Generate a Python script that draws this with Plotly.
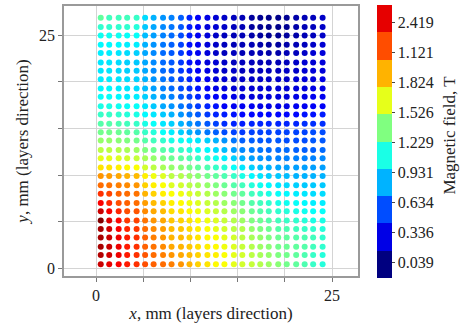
import plotly.graph_objects as go

# column positions (mm, layers direction) and row positions (mm)
x_mm = [0.5, 1.4, 2.4, 3.3, 4.3, 5.2, 6.1, 7.1, 8.0, 9.0, 9.9, 10.8, 11.8,
        12.7, 13.6, 14.6, 15.5, 16.5, 17.4, 18.3, 19.3, 20.2, 21.2, 22.1, 23.0, 24.0]
# rows listed from top (y = 26.9) to bottom (y = 0.4)
y_mm = [26.9, 25.9, 25.0, 24.0, 23.1, 22.1, 21.2, 20.3, 19.3, 18.4, 17.4, 16.5,
        15.5, 14.6, 13.7, 12.7, 11.8, 10.8, 9.9, 8.9, 8.0, 7.0, 6.1, 5.1, 4.2,
        3.3, 2.3, 1.4, 0.4]

# magnetic field (T), one list per row, top row first
B = [
    [1.16, 1.08, 1.08, 1.08, 1.05, 0.81, 0.70, 0.62, 0.57, 0.48, 0.32, 0.21, 0.16, 0.11, 0.08, 0.05, 0.03, -0.03, -0.06, -0.08, -0.08, -0.06, 0.00, 0.03, 0.05, 0.08],
    [1.03, 1.03, 1.03, 1.03, 1.00, 0.76, 0.67, 0.59, 0.54, 0.46, 0.30, 0.21, 0.13, 0.11, 0.08, 0.05, 0.03, -0.03, -0.06, -0.08, -0.08, -0.06, 0.00, 0.03, 0.05, 0.08],
    [0.94, 0.94, 0.94, 0.92, 0.92, 0.73, 0.65, 0.57, 0.51, 0.43, 0.30, 0.19, 0.13, 0.08, 0.05, 0.03, 0.03, 0.00, -0.03, -0.06, -0.06, -0.03, 0.00, 0.03, 0.05, 0.08],
    [0.89, 0.89, 0.89, 0.86, 0.86, 0.70, 0.62, 0.54, 0.48, 0.40, 0.27, 0.19, 0.13, 0.08, 0.05, 0.03, 0.03, 0.03, 0.00, -0.03, -0.03, 0.00, 0.03, 0.05, 0.08, 0.11],
    [0.86, 0.86, 0.84, 0.81, 0.78, 0.67, 0.59, 0.51, 0.46, 0.38, 0.27, 0.19, 0.13, 0.08, 0.05, 0.05, 0.03, 0.03, 0.03, 0.00, 0.00, 0.03, 0.05, 0.08, 0.11, 0.13],
    [0.84, 0.84, 0.81, 0.78, 0.76, 0.67, 0.59, 0.51, 0.46, 0.38, 0.27, 0.19, 0.13, 0.11, 0.08, 0.05, 0.05, 0.05, 0.03, 0.03, 0.03, 0.05, 0.08, 0.11, 0.11, 0.13],
    [0.84, 0.84, 0.81, 0.78, 0.76, 0.67, 0.59, 0.51, 0.46, 0.38, 0.30, 0.21, 0.16, 0.11, 0.08, 0.08, 0.05, 0.05, 0.05, 0.05, 0.05, 0.08, 0.08, 0.11, 0.13, 0.13],
    [0.86, 0.86, 0.84, 0.81, 0.78, 0.70, 0.62, 0.54, 0.48, 0.40, 0.32, 0.24, 0.19, 0.13, 0.11, 0.08, 0.08, 0.08, 0.08, 0.08, 0.08, 0.08, 0.11, 0.13, 0.13, 0.16],
    [0.89, 0.89, 0.86, 0.84, 0.81, 0.73, 0.65, 0.57, 0.51, 0.43, 0.35, 0.27, 0.21, 0.16, 0.13, 0.11, 0.11, 0.11, 0.11, 0.11, 0.11, 0.11, 0.13, 0.13, 0.16, 0.16],
    [0.92, 0.92, 0.89, 0.86, 0.86, 0.78, 0.70, 0.62, 0.57, 0.48, 0.40, 0.32, 0.27, 0.21, 0.19, 0.16, 0.13, 0.13, 0.13, 0.13, 0.13, 0.13, 0.16, 0.16, 0.19, 0.19],
    [0.97, 0.97, 0.94, 0.92, 0.92, 0.84, 0.76, 0.67, 0.62, 0.54, 0.46, 0.38, 0.32, 0.27, 0.21, 0.19, 0.19, 0.19, 0.16, 0.16, 0.16, 0.16, 0.19, 0.19, 0.21, 0.21],
    [1.05, 1.05, 1.03, 1.00, 0.97, 0.89, 0.84, 0.76, 0.70, 0.62, 0.54, 0.46, 0.38, 0.32, 0.30, 0.27, 0.24, 0.24, 0.24, 0.24, 0.24, 0.24, 0.24, 0.27, 0.27, 0.30],
    [1.13, 1.13, 1.11, 1.08, 1.05, 0.97, 0.92, 0.84, 0.78, 0.70, 0.62, 0.54, 0.46, 0.40, 0.35, 0.32, 0.30, 0.32, 0.32, 0.32, 0.32, 0.32, 0.32, 0.35, 0.35, 0.35],
    [1.21, 1.21, 1.19, 1.16, 1.13, 1.05, 1.00, 0.92, 0.86, 0.78, 0.70, 0.62, 0.54, 0.48, 0.43, 0.40, 0.38, 0.40, 0.40, 0.40, 0.40, 0.40, 0.40, 0.40, 0.43, 0.43],
    [1.30, 1.30, 1.27, 1.24, 1.21, 1.13, 1.08, 1.03, 0.97, 0.94, 0.89, 0.84, 0.78, 0.70, 0.62, 0.54, 0.48, 0.48, 0.46, 0.46, 0.46, 0.43, 0.43, 0.43, 0.46, 0.46],
    [1.40, 1.40, 1.38, 1.35, 1.32, 1.24, 1.19, 1.13, 1.08, 1.05, 1.00, 0.94, 0.89, 0.81, 0.73, 0.65, 0.59, 0.57, 0.54, 0.51, 0.51, 0.51, 0.48, 0.48, 0.48, 0.51],
    [1.51, 1.51, 1.49, 1.46, 1.43, 1.35, 1.30, 1.24, 1.19, 1.16, 1.11, 1.05, 1.00, 0.94, 0.86, 0.78, 0.70, 0.65, 0.62, 0.59, 0.57, 0.57, 0.57, 0.57, 0.57, 0.59],
    [1.65, 1.65, 1.62, 1.59, 1.57, 1.46, 1.40, 1.35, 1.30, 1.27, 1.21, 1.16, 1.11, 1.05, 1.00, 0.92, 0.84, 0.78, 0.73, 0.70, 0.67, 0.65, 0.65, 0.65, 0.65, 0.65],
    [1.86, 1.84, 1.81, 1.78, 1.76, 1.62, 1.54, 1.49, 1.40, 1.38, 1.32, 1.27, 1.21, 1.16, 1.11, 1.05, 0.97, 0.89, 0.84, 0.78, 0.76, 0.73, 0.70, 0.70, 0.70, 0.70],
    [1.97, 1.95, 1.92, 1.89, 1.86, 1.70, 1.62, 1.57, 1.49, 1.46, 1.40, 1.35, 1.30, 1.24, 1.19, 1.13, 1.08, 1.00, 0.94, 0.89, 0.84, 0.81, 0.78, 0.76, 0.76, 0.76],
    [2.13, 2.08, 2.00, 1.97, 1.95, 1.78, 1.70, 1.62, 1.57, 1.54, 1.49, 1.43, 1.38, 1.32, 1.27, 1.21, 1.16, 1.08, 1.03, 0.97, 0.92, 0.89, 0.86, 0.84, 0.81, 0.81],
    [2.27, 2.16, 2.05, 2.00, 1.97, 1.84, 1.76, 1.70, 1.62, 1.59, 1.54, 1.49, 1.43, 1.38, 1.32, 1.27, 1.21, 1.13, 1.08, 1.03, 0.97, 0.94, 0.92, 0.89, 0.86, 0.86],
    [2.40, 2.27, 2.16, 2.05, 2.03, 1.89, 1.81, 1.76, 1.67, 1.65, 1.59, 1.54, 1.49, 1.43, 1.38, 1.32, 1.27, 1.19, 1.13, 1.08, 1.03, 1.00, 0.97, 0.94, 0.92, 0.92],
    [2.59, 2.35, 2.24, 2.11, 2.08, 1.95, 1.86, 1.81, 1.73, 1.70, 1.65, 1.59, 1.54, 1.49, 1.43, 1.38, 1.32, 1.24, 1.19, 1.13, 1.08, 1.05, 1.03, 1.00, 0.97, 0.97],
    [2.49, 2.38, 2.27, 2.16, 2.11, 1.97, 1.89, 1.84, 1.76, 1.73, 1.67, 1.62, 1.57, 1.51, 1.46, 1.40, 1.38, 1.30, 1.24, 1.19, 1.13, 1.11, 1.08, 1.05, 1.03, 1.00],
    [2.49, 2.40, 2.30, 2.19, 2.13, 2.00, 1.92, 1.86, 1.78, 1.76, 1.70, 1.65, 1.59, 1.57, 1.51, 1.46, 1.40, 1.35, 1.30, 1.24, 1.19, 1.16, 1.13, 1.11, 1.08, 1.03],
    [2.49, 2.40, 2.30, 2.19, 2.13, 2.00, 1.95, 1.89, 1.81, 1.78, 1.73, 1.67, 1.62, 1.59, 1.54, 1.49, 1.43, 1.38, 1.32, 1.27, 1.21, 1.19, 1.16, 1.13, 1.08, 1.03],
    [2.46, 2.38, 2.30, 2.19, 2.13, 2.03, 1.97, 1.92, 1.86, 1.81, 1.76, 1.70, 1.65, 1.62, 1.57, 1.51, 1.46, 1.40, 1.35, 1.30, 1.24, 1.21, 1.16, 1.11, 1.05, 1.00],
    [2.40, 2.32, 2.27, 2.19, 2.13, 2.05, 2.00, 1.97, 1.92, 1.86, 1.78, 1.70, 1.65, 1.59, 1.57, 1.51, 1.46, 1.43, 1.38, 1.32, 1.27, 1.21, 1.16, 1.11, 1.05, 1.00],
]

x_ticks = [0, 5, 10, 15, 20, 25]
x_tick_text = ["0", "", "", "", "", "25"]
y_ticks = [0, 5, 10, 15, 20, 25]
y_tick_text = ["0", "", "", "", "", "25"]
cbar_ticks = [0.039, 0.336, 0.634, 0.931, 1.229, 1.526, 1.824, 2.121, 2.419]
cbar_tick_text = ["0.039", "0.336", "0.634", "0.931", "1.229", "1.526", "1.824", "1.121", "2.419"]
cbar_title = "Magnetic field, T"
B_MIN, B_MAX = -0.11, 2.594

# pgfplots-style jet
jet = [[0.0, "rgb(0,0,128)"], [0.125, "rgb(0,0,255)"], [0.375, "rgb(0,255,255)"],
       [0.625, "rgb(255,255,0)"], [0.875, "rgb(255,0,0)"], [1.0, "rgb(128,0,0)"]]
band_colors = ["rgb(0,0,128)", "rgb(0,0,230)", "rgb(0,77,255)", "rgb(0,179,255)",
               "rgb(26,255,230)", "rgb(128,255,128)", "rgb(230,255,26)",
               "rgb(255,179,0)", "rgb(255,77,0)", "rgb(230,0,0)"]
steps = []
n = len(band_colors)
for k, c in enumerate(band_colors):
    steps.append([k / n, c])
    steps.append([(k + 1) / n, c])

xs, ys, cs = [], [], []
for yi, row in zip(y_mm, B):
    for xi, v in zip(x_mm, row):
        xs.append(xi)
        ys.append(yi)
        cs.append(v)

SERIF = "Liberation Serif, Times New Roman, serif"
TXT = "#222"

fig = go.Figure()
fig.add_trace(go.Scatter(
    x=xs, y=ys, mode="markers",
    marker=dict(size=6, color=cs, colorscale=jet, cmin=B_MIN, cmax=B_MAX,
                showscale=False, line=dict(width=0)),
    showlegend=False, hoverinfo="skip"))

fig.add_trace(go.Scatter(
    x=[None], y=[None], mode="markers",
    marker=dict(size=0, color=[B_MIN, B_MAX], colorscale=steps, cmin=B_MIN, cmax=B_MAX,
                showscale=True,
                colorbar=dict(
                    thickness=15, len=273, lenmode="pixels",
                    x=1.063, xanchor="left", xpad=0, y=0.5, yanchor="middle", ypad=0,
                    outlinewidth=0,
                    ticks="outside", ticklen=3, tickcolor="#444",
                    tickvals=cbar_ticks, ticktext=cbar_tick_text,
                    tickfont=dict(family=SERIF, size=16, color=TXT))),
    showlegend=False, hoverinfo="skip"))

axis_common = dict(
    showgrid=True, gridcolor="#d4d4d4", gridwidth=1,
    showline=True, mirror=True, linecolor="#9a9a9a", linewidth=1.5,
    ticks="outside", ticklen=4, tickcolor="#777", zeroline=False,
    tickfont=dict(family=SERIF, size=16, color=TXT),
)

fig.update_layout(
    width=462, height=324,
    margin=dict(l=64, r=104, t=4, b=47),
    paper_bgcolor="white", plot_bgcolor="white",
    xaxis=dict(range=[-3.39, 27.75], tickvals=x_ticks, ticktext=x_tick_text,
               title=dict(text="<i>x</i>, mm (layers direction)", standoff=4,
                          font=dict(family=SERIF, size=17, color=TXT)),
               **axis_common),
    yaxis=dict(range=[-0.85, 28.16], tickvals=y_ticks, ticktext=y_tick_text,
               title=dict(text="<i>y</i>, mm (layers direction)", standoff=6,
                          font=dict(family=SERIF, size=17, color=TXT)),
               **axis_common),
    annotations=[dict(text=cbar_title, xref="paper", yref="paper",
                      x=(450 - 64) / 294, y=0.52, xanchor="center", yanchor="middle",
                      textangle=-90, showarrow=False,
                      font=dict(family=SERIF, size=17, color=TXT))],
)

fig.write_html("out.html")
